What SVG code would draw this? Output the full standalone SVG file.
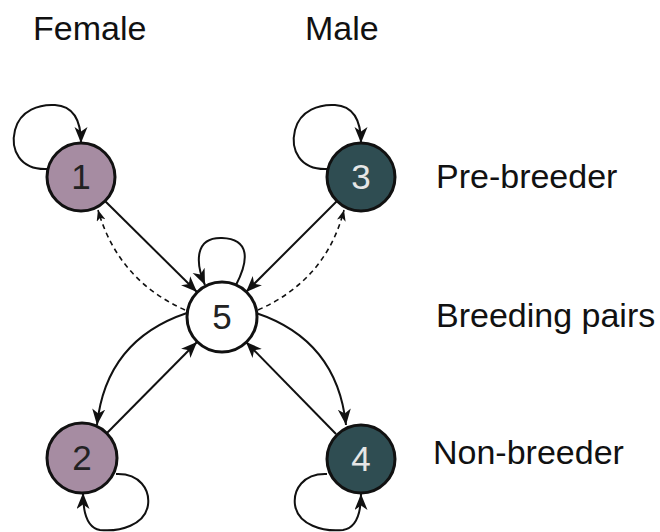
<svg xmlns="http://www.w3.org/2000/svg" width="660" height="532" viewBox="0 0 660 532">
<defs>
<marker id="ah" markerUnits="userSpaceOnUse" markerWidth="17" markerHeight="14" refX="16" refY="6.5" orient="auto">
<path d="M0,0 L16,6.5 L0,13 L4.5,6.5 z" fill="#111"/>
</marker>
<marker id="ahs" markerUnits="userSpaceOnUse" markerWidth="12" markerHeight="10" refX="11" refY="4.5" orient="auto">
<path d="M0,0 L11,4.5 L0,9 L3,4.5 z" fill="#111"/>
</marker>
</defs>
<style>
.lbl{font-family:"Liberation Sans",Arial,sans-serif;font-size:34px;fill:#111}
.num{font-family:"Liberation Sans",Arial,sans-serif;font-size:35px;text-anchor:middle}
.node{stroke:#111;stroke-width:3}
.e{fill:none;stroke:#111;stroke-width:2;marker-end:url(#ah)}
.d{fill:none;stroke:#111;stroke-width:1.6;stroke-dasharray:5,4;marker-end:url(#ahs)}
</style>
<rect width="660" height="532" fill="#fff"/>
<g id="labels">
<text class="lbl" x="33" y="40">Female</text>
<text class="lbl" x="305" y="40">Male</text>
<text class="lbl" x="436" y="188">Pre-breeder</text>
<text class="lbl" x="436" y="327">Breeding pairs</text>
<text class="lbl" x="433" y="464">Non-breeder</text>
</g>
<g id="connectors">
<path class="e" d="M47,169 C20,170 10,150 15,130 C20,110 40,104 55,105 C72,106 81,118 81,143"/>
<path class="e" d="M327,169 C300,170 290,150 295,130 C300,110 320,104 335,105 C352,106 361,118 361,143"/>
<path class="e" d="M116,474 C140,473 150,490 148,505 C145,525 120,532 100,530 C88,528 83,515 83,493"/>
<path class="e" d="M327,474 C303,473 293,490 295,505 C298,525 323,532 343,530 C355,528 361,515 361,494"/>
<path class="e" d="M236,285 C249,260 250,239 222,238 C195,237 195,262 205,285"/>
<path class="e" d="M105,201 L197,292"/>
<path class="e" d="M337,201 L246,292"/>
<path class="e" d="M107,433 L197,342"/>
<path class="e" d="M336,434 L246,342"/>
<path class="e" d="M187,313 Q106,340 97,425"/>
<path class="e" d="M256,313 Q337,340 346,425"/>
<path class="d" d="M185,310 Q118,280 98,210"/>
<path class="d" d="M258,310 Q326,280 344,210"/>
</g>
<g id="n1">
<circle class="node" cx="81" cy="177" r="34" fill="#a68ca2"/>
<text class="num" x="81" y="189" fill="#222">1</text>
</g>
<g id="n3">
<circle class="node" cx="361" cy="177" r="34" fill="#2f4d52"/>
<text class="num" x="361" y="189" fill="#e6e6e6">3</text>
</g>
<g id="n5">
<circle class="node" cx="222" cy="317" r="35" fill="#fff"/>
<text class="num" x="222" y="329" fill="#222">5</text>
</g>
<g id="n2">
<circle class="node" cx="82" cy="458" r="35" fill="#a68ca2"/>
<text class="num" x="82" y="470" fill="#222">2</text>
</g>
<g id="n4">
<circle class="node" cx="361" cy="459" r="34" fill="#2f4d52"/>
<text class="num" x="361" y="471" fill="#e6e6e6">4</text>
</g>
</svg>
